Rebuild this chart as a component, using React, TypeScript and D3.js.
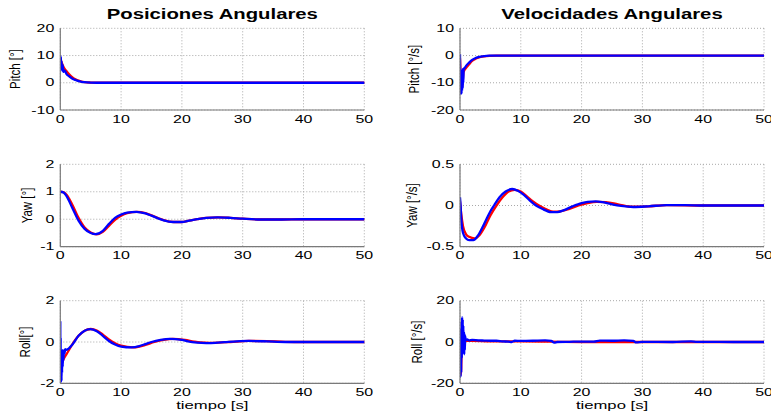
import React from "react";
import * as d3 from "d3";

// ---------- data ----------
const xTicks = [0, 10, 20, 30, 40, 50];

// Pitch position [°]
const pitchPosBlueT = [0, 0.05, 0.1, 0.15, 0.2, 0.3, 0.4, 0.5, 0.7, 1, 1.5, 2, 2.5, 3, 3.5, 4, 5, 6, 8, 50];
const pitchPosBlueV = [10, 6, 9.5, 5, 8, 4.5, 6.5, 4, 4.5, 3.3, 2.3, 1.5, 1.0, 0.6, 0.35, 0.2, 0.05, 0, 0, 0];
const pitchPosRedT = [0, 0.3, 0.6, 1, 1.5, 2, 2.5, 3, 3.5, 4, 5, 6, 8, 50];
const pitchPosRedV = [9, 7, 5.5, 4.3, 3.0, 2.0, 1.3, 0.8, 0.45, 0.25, 0.08, 0.02, 0, 0];

// Pitch velocity [°/s]
const pitchVelBlueT = [0, 0.02, 0.05, 0.1, 0.15, 0.2, 0.25, 0.3, 0.35, 0.4, 0.45, 0.5, 0.55, 0.6, 0.8, 1, 1.5, 2, 2.5, 3, 4, 5, 6, 50];
const pitchVelBlueV = [0.5, -5, -14, -8, -13, -6, -14, -9, -13, -5, -12, -7, -10, -5, -4.5, -3.8, -2.6, -1.6, -1.0, -0.6, -0.2, -0.05, 0, 0];
const pitchVelRedT = [0, 0.3, 0.6, 1, 1.5, 2, 2.5, 3, 4, 5, 6, 50];
const pitchVelRedV = [-1, -12, -6, -4.5, -3.2, -2.0, -1.3, -0.8, -0.3, -0.1, 0, 0];

// Yaw position [°]
const yawPosBlueT = [0, 0.5, 1, 2, 3, 4, 5, 5.8, 7, 8, 9, 10, 11, 12.5, 14, 15, 16, 17, 18.5, 20, 21, 22.5, 24, 25.8, 28, 30, 33, 36, 40, 50];
const yawPosBlueV = [1.0, 0.98, 0.85, 0.4, -0.05, -0.35, -0.5, -0.54, -0.42, -0.17, 0.05, 0.17, 0.24, 0.27, 0.21, 0.13, 0.04, -0.04, -0.1, -0.1, -0.06, 0.0, 0.05, 0.07, 0.05, 0.02, -0.01, -0.01, 0, 0];
const yawPosRedT = [0, 0.5, 1, 2, 3, 4, 5, 6, 7, 8, 9, 10, 11, 12.7, 14, 15, 16, 17, 18.7, 20, 21, 22.5, 24, 26, 28, 30, 33, 36, 40, 50];
const yawPosRedV = [1.0, 0.99, 0.9, 0.52, 0.05, -0.3, -0.48, -0.55, -0.46, -0.24, -0.02, 0.13, 0.22, 0.27, 0.22, 0.14, 0.05, -0.03, -0.1, -0.1, -0.06, 0.0, 0.05, 0.07, 0.05, 0.02, -0.01, -0.01, 0, 0];

// Yaw velocity [°/s]
const yawVelBlueT = [0, 0.1, 0.2, 0.4, 0.7, 1, 1.5, 2.2, 3, 4, 5, 5.6, 6.5, 7.5, 8.6, 9.5, 10.5, 11.5, 12.5, 13.5, 15, 16, 17, 18.5, 20, 21, 22.3, 23.5, 25, 26.5, 28.5, 31, 34, 37, 40, 45, 50];
const yawVelBlueV = [0.1, 0.0, -0.15, -0.3, -0.37, -0.4, -0.42, -0.42, -0.36, -0.22, -0.07, 0.0, 0.1, 0.17, 0.2, 0.18, 0.13, 0.06, 0.0, -0.04, -0.08, -0.08, -0.06, -0.01, 0.03, 0.045, 0.05, 0.04, 0.015, -0.005, -0.018, -0.01, 0.005, 0.005, 0, 0, 0];
const yawVelRedT = [0, 0.2, 0.5, 1, 1.5, 2.4, 3.2, 4, 5, 6, 7, 8, 9, 10, 11, 12, 13, 14, 15.3, 16.5, 18, 19.5, 21, 22.5, 24, 26, 28.5, 31, 34, 40, 47, 50];
const yawVelRedV = [0.05, -0.1, -0.25, -0.35, -0.38, -0.4, -0.36, -0.27, -0.12, 0.0, 0.1, 0.17, 0.19, 0.17, 0.11, 0.05, 0.0, -0.04, -0.075, -0.07, -0.04, 0.0, 0.03, 0.045, 0.04, 0.015, -0.015, -0.01, 0.005, 0, 0, 0];

// Roll position [°]
const rollPosBlueT = [0, 0.03, 0.06, 0.1, 0.15, 0.2, 0.25, 0.3, 0.35, 0.4, 0.45, 0.5, 0.6, 0.7, 0.8, 1, 2, 3, 4, 4.9, 6, 7, 8, 9, 10, 11.7, 13, 14, 15, 16.5, 18, 20, 21, 22.5, 24, 25.5, 27, 29, 31, 34, 37, 40, 45, 50];
const rollPosBlueV = [1.0, -1.9, 0.2, -1.95, -0.5, -1.9, -0.7, -1.5, -0.4, -1.2, -0.5, -0.9, -0.4, -0.55, -0.35, -0.38, -0.12, 0.3, 0.55, 0.62, 0.52, 0.3, 0.05, -0.12, -0.22, -0.26, -0.2, -0.1, 0.0, 0.1, 0.15, 0.1, 0.03, -0.03, -0.05, -0.04, -0.01, 0.03, 0.05, 0.03, 0.0, 0.0, 0, 0];
const rollPosRedT = [0.3, 0.6, 1, 1.5, 2, 3, 4, 5, 6, 7, 8, 9, 10, 12, 13, 14, 15.5, 17, 18.5, 20.5, 22, 23, 24.5, 26, 28, 31, 34, 37, 40, 45, 50];
const rollPosRedV = [-1.0, -0.8, -0.6, -0.35, -0.1, 0.3, 0.55, 0.63, 0.56, 0.36, 0.12, -0.06, -0.18, -0.26, -0.22, -0.14, 0.0, 0.1, 0.15, 0.1, 0.02, -0.02, -0.04, -0.03, 0.0, 0.05, 0.04, 0.01, 0, 0, 0];

// Roll velocity [°/s]
const rollVelBlueT = [0, 0.05, 0.1, 0.15, 0.2, 0.25, 0.3, 0.35, 0.4, 0.45, 0.5, 0.55, 0.6, 0.65, 0.7, 0.75, 0.8, 0.85, 0.9, 1, 1.2, 1.5, 2, 3, 4, 5, 6, 7, 8, 8.5, 9, 10, 12, 14, 15, 15.5, 16, 18, 20, 22, 23, 25, 27, 28.5, 29, 30, 35, 38, 39, 40, 45, 50];
const rollVelBlueV = [0, 6, -17, 5, -15, 10, -8, 12, -6, 11, -5, 8, -2, 5, -6, 4, -4, 3, 1.5, 1, 1.2, 0.8, 1.0, 0.8, 0.7, 0.6, 0.6, 0.3, 0.2, 0, 0.6, 0.5, 0.6, 0.8, 0.5, -0.3, 0, 0.1, 0.2, 0.2, 0.7, 0.6, 0.8, 0.5, -0.2, 0.1, 0.0, 0.3, 0.1, 0.1, 0, 0];
const rollVelRedT = [0, 0.1, 0.2, 0.3, 0.5, 0.7, 1, 2, 5, 10, 20, 30, 50];
const rollVelRedV = [0, -16, -13, 2, -3, 1, 0.5, 0.5, 0.3, 0.3, 0, 0, 0];

const titles = ["Posiciones Angulares", "Velocidades Angulares"];
const xLabel = "tiempo [s]";

// ---------- layout ----------
const W = 771;
const H = 418;
const COLS = [
  [60.3, 364.3],
  [460, 764],
];
const ROWS = [
  [28.3, 110],
  [164.3, 246.7],
  [300.7, 383.3],
];
const FONT = "'Liberation Sans', Arial, Helvetica, sans-serif";
const SX = 1.45; // horizontal stretch of the reference's text

const zip = (t: number[], v: number[]) => t.map((d, i) => [d, v[i]] as [number, number]);

const panels = [
  { col: 0, row: 0, dom: [-10, 20], ticks: [-10, 0, 10, 20], label: "Pitch [°]", lx: 15, blue: zip(pitchPosBlueT, pitchPosBlueV), red: zip(pitchPosRedT, pitchPosRedV) },
  { col: 1, row: 0, dom: [-20, 10], ticks: [-20, -10, 0, 10], label: "Pitch [°/s]", lx: 414, blue: zip(pitchVelBlueT, pitchVelBlueV), red: zip(pitchVelRedT, pitchVelRedV) },
  { col: 0, row: 1, dom: [-1, 2], ticks: [-1, 0, 1, 2], label: "Yaw [°]", lx: 27, blue: zip(yawPosBlueT, yawPosBlueV), red: zip(yawPosRedT, yawPosRedV) },
  { col: 1, row: 1, dom: [-0.5, 0.5], ticks: [-0.5, 0, 0.5], label: "Yaw [°/s]", lx: 412, blue: zip(yawVelBlueT, yawVelBlueV), red: zip(yawVelRedT, yawVelRedV) },
  { col: 0, row: 2, dom: [-2, 2], ticks: [-2, 0, 2], label: "Roll[°]", lx: 25, blue: zip(rollPosBlueT, rollPosBlueV), red: zip(rollPosRedT, rollPosRedV) },
  { col: 1, row: 2, dom: [-20, 20], ticks: [-20, 0, 20], label: "Roll [°/s]", lx: 417, blue: zip(rollVelBlueT, rollVelBlueV), red: zip(rollVelRedT, rollVelRedV) },
];

function Panel({ p, idx }: { p: (typeof panels)[number]; idx: number }) {
  const [x0, x1] = COLS[p.col];
  const [y0, y1] = ROWS[p.row];
  const x = d3.scaleLinear().domain([0, 50]).range([x0, x1]);
  const y = d3.scaleLinear().domain(p.dom).range([y1, y0]);
  const line = d3
    .line<[number, number]>()
    .x((d) => x(d[0]))
    .y((d) => y(d[1]))
    .curve(d3.curveMonotoneX);
  const grid = "#a8a8a8";
  const clipId = `clip${idx}`;
  return (
    <g>
      <defs>
        <clipPath id={clipId}>
          <rect x={x0} y={y0 - 1} width={x1 - x0 + 1} height={y1 - y0 + 2} />
        </clipPath>
      </defs>
      {xTicks.map((t) => (
        <line key={"gx" + t} x1={x(t)} x2={x(t)} y1={y0} y2={y1} stroke={grid} strokeWidth={1} strokeDasharray="1,2" />
      ))}
      {p.ticks.map((t) => (
        <line key={"gy" + t} x1={x0} x2={x1} y1={y(t)} y2={y(t)} stroke={grid} strokeWidth={1} strokeDasharray="1,2" />
      ))}
      <g clipPath={`url(#${clipId})`}>
        <path d={line(p.red) || ""} fill="none" stroke="#ff0000" strokeWidth={2.3} strokeLinejoin="round" />
        <path d={line(p.blue) || ""} fill="none" stroke="#0000ff" strokeWidth={2.3} strokeLinejoin="round" />
      </g>
      <line x1={x0} x2={x0} y1={y0} y2={y1} stroke="#7a7a7a" strokeWidth={1.2} />
      <line x1={x0} x2={x1} y1={y1} y2={y1} stroke="#7a7a7a" strokeWidth={1.2} />
      {p.ticks.map((t) => (
        <text
          key={"ty" + t}
          transform={`translate(${x0 - 6},${y(t)}) scale(${SX},1)`}
          textAnchor="end"
          dominantBaseline="central"
          fontFamily={FONT}
          fontSize={11}
          fill="#000"
        >
          {String(t)}
        </text>
      ))}
      {xTicks.map((t) => (
        <text
          key={"tx" + t}
          transform={`translate(${x(t)},${y1 + 9}) scale(${SX},1)`}
          textAnchor="middle"
          dominantBaseline="central"
          fontFamily={FONT}
          fontSize={11}
          fill="#000"
        >
          {String(t)}
        </text>
      ))}
      <text
        transform={`translate(${p.lx},${(y0 + y1) / 2}) rotate(-90) scale(1,1.35)`}
        textAnchor="middle"
        dominantBaseline="central"
        fontFamily={FONT}
        fontSize={11.5}
        fill="#000"
      >
        {p.label}
      </text>
    </g>
  );
}

export default function App() {
  return (
    <svg
      width={W}
      height={H}
      viewBox={`0 0 ${W} ${H}`}
      style={{ position: "absolute", left: 0, top: 0, background: "#fff" }}
    >
      <rect x={0} y={0} width={W} height={H} fill="#fff" />
      {panels.map((p, i) => (
        <Panel key={i} p={p} idx={i} />
      ))}
      {titles.map((t, i) => (
        <text
          key={t}
          transform={`translate(${(COLS[i][0] + COLS[i][1]) / 2},18.5) scale(1.4,1)`}
          textAnchor="middle"
          fontFamily={FONT}
          fontSize={14.5}
          fontWeight="bold"
          fill="#000"
        >
          {t}
        </text>
      ))}
      {COLS.map((c, i) => (
        <text
          key={"xl" + i}
          transform={`translate(${(c[0] + c[1]) / 2},${ROWS[2][1] + 22}) scale(1.45,1)`}
          textAnchor="middle"
          dominantBaseline="central"
          fontFamily={FONT}
          fontSize={11.5}
          fill="#000"
        >
          {xLabel}
        </text>
      ))}
    </svg>
  );
}
